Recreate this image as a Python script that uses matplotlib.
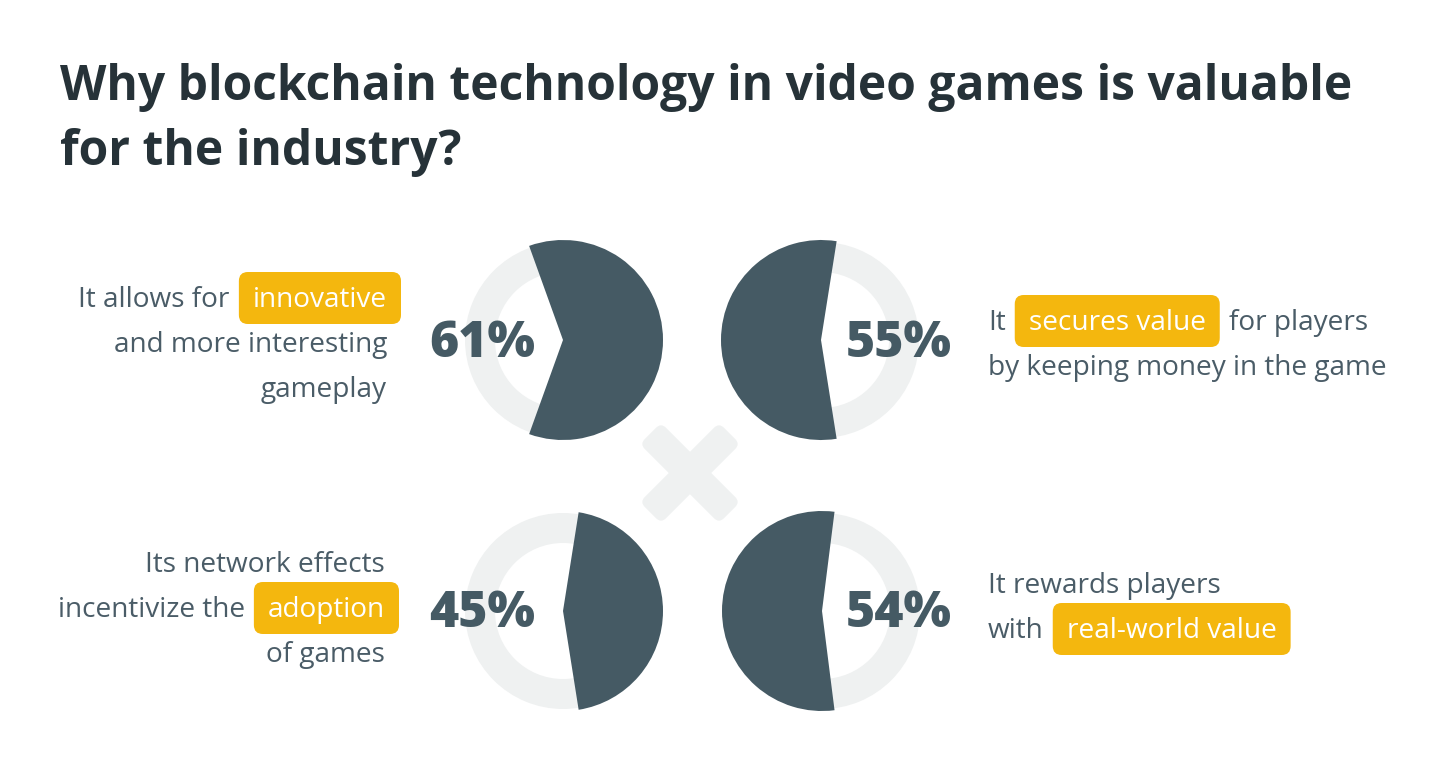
import matplotlib
matplotlib.use("Agg")
import matplotlib.pyplot as plt
from matplotlib.patches import Wedge, FancyBboxPatch
from matplotlib.transforms import Affine2D

# ---------------- data ----------------
title_lines = ["Why blockchain technology in video games is valuable",
               "for the industry?"]
values = [61, 55, 45, 54]
value_labels = ["61%", "55%", "45%", "54%"]
# each description: list of lines, each line a list of (text, highlighted)
descriptions = [
    [[("It allows for", False), ("innovative", True)],
     [("and more interesting", False)],
     [("gameplay", False)]],
    [[("It", False), ("secures value", True), ("for players", False)],
     [("by keeping money in the game", False)]],
    [[("Its network effects", False)],
     [("incentivize the", False), ("adoption", True)],
     [("of games", False)]],
    [[("It rewards players", False)],
     [("with", False), ("real-world value", True)]],
]

# ---------------- style ----------------
W, H = 1450, 778
DARK = "#455a64"
RING = "#eff1f1"
YELLOW = "#f4b70e"
TITLE_C = "#263238"
TEXT_C = "#4a5c67"
FONT = "Open Sans"

centers = [(563, 340), (821, 340), (563, 611), (822, 611)]
wedge_side = [0, 180, 0, 180]          # direction the dark wedge faces
pct_pos = [(482, 357), (899, 357), (482, 627), (899, 627)]
text_anchor = [(387, 307, "right"), (988, 330, "left"),
               (385, 572, "right"), (988, 593, "left")]
line_gap = 45

fig = plt.figure(figsize=(W / 100, H / 100), dpi=100)
ax = fig.add_axes([0, 0, 1, 1])
ax.set_xlim(0, W)
ax.set_ylim(H, 0)
ax.set_aspect("equal")
ax.axis("off")
fig.patch.set_facecolor("white")

# title
for i, line in enumerate(title_lines):
    ax.text(60, 100 + i * 65, line, fontsize=34.6, fontweight="bold",
            family=FONT, color=TITLE_C, ha="left", va="baseline")

# background X mark
cx, cy = 690, 473
L, T = 112, 30
for ang in (45, -45):
    p = FancyBboxPatch((cx - L / 2, cy - T / 2), L, T,
                       boxstyle="round,pad=0,rounding_size=7",
                       fc=RING, ec="none", zorder=1)
    p.set_transform(Affine2D().rotate_deg_around(cx, cy, ang) + ax.transData)
    ax.add_patch(p)

# rings + wedges
for (x0, y0), v, side in zip(centers, values, wedge_side):
    ax.add_patch(Wedge((x0, y0), 98, 0, 360, width=30, fc=RING, ec="none", zorder=2))
    half = v * 3.6 / 2
    ax.add_patch(Wedge((x0, y0), 100, side - half, side + half,
                       fc=DARK, ec="none", zorder=3))

for (px, py), lab in zip(pct_pos, value_labels):
    ax.text(px, py, lab, fontsize=36, fontweight=800, family=FONT,
            color=DARK, ha="center", va="baseline", zorder=5)

# descriptions
fig.canvas.draw()
renderer = fig.canvas.get_renderer()
PAD = 14
SEP = 23
BOX_H = 52
FS = 20.2


def text_width(s):
    t = ax.text(0, 0, s, fontsize=FS, family=FONT)
    w = t.get_window_extent(renderer).width
    t.remove()
    return w


for desc, (ax0, ay0, align) in zip(descriptions, text_anchor):
    for li, segs in enumerate(desc):
        yb = ay0 + li * line_gap
        widths = [text_width(s) for s, _ in segs]
        total = sum(widths) + SEP * (len(segs) - 1)
        x = ax0 - total if align == "right" else ax0
        for (s, hl), w in zip(segs, widths):
            if hl:
                ax.add_patch(FancyBboxPatch((x - PAD, yb - 9 - BOX_H / 2),
                                            w + 2 * PAD, BOX_H,
                                            boxstyle="round,pad=0,rounding_size=9",
                                            fc=YELLOW, ec="none", zorder=4))
                col = "white"
            else:
                col = TEXT_C
            ax.text(x, yb, s, fontsize=FS, family=FONT, color=col,
                    ha="left", va="baseline", zorder=5)
            x += w + SEP

fig.savefig("out.png", dpi=100, facecolor="white")
